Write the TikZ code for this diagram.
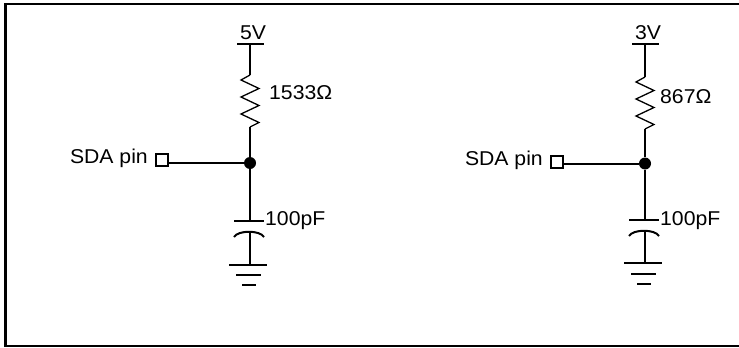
\documentclass[tikz,border=0pt]{standalone}
\usepackage{fontspec}
\setmainfont[FakeStretch=1.06]{Liberation Sans}
\begin{document}
\begin{tikzpicture}[x=1pt,y=-1pt,
  wire/.style={line width=2pt},
  zig/.style={line width=1.3pt},
  frame/.style={line width=2.2pt},
  lbl/.style={font=\fontsize{20}{22}\selectfont, inner sep=0pt},
  pinbox/.style={draw, line width=1.6pt, minimum size=12.5pt, inner sep=0pt},
  junc/.style={circle, fill, minimum size=12pt, inner sep=0pt}]
\useasboundingbox (0,0) rectangle (739,348);
% frame
\coordinate (fr1) at (739,4);
\coordinate (fr2) at (5.5,4);
\coordinate (fr3) at (5.5,346);
\coordinate (fr4) at (739,346);
\draw[frame] (fr1) -- (fr2) -- (fr3) -- (fr4);

% ---------- left circuit ----------
\node[lbl] (v1) at (253,32.5) {5V};
\coordinate (t1a) at (237,43.5);
\coordinate (t1b) at (264,43.5);
\coordinate (t1) at (250,43.5);
\draw[wire] (t1a) -- (t1b);
\coordinate (r1t) at (250,75);
\coordinate (r1b) at (250,127);
\draw[wire] (t1) -- (r1t);
\draw[zig] (r1t) -- ++(-9,5) -- ++(18,8.5) -- ++(-18,8.5) -- ++(18,8.5) -- ++(-18,8.5) -- ++(18,8.5) -- (r1b);
\node[lbl, anchor=west] (rl1) at (269,93) {1533Ω};
\node[junc] (j1) at (250,163) {};
\draw[wire] (r1b) -- (j1);
\node[pinbox] (p1) at (162,160) {};
\node[lbl, anchor=east] (s1) at (148,158) {SDA pin};
\draw[wire] (p1.east |- j1) -- (j1);
\coordinate (c1t) at (250,221);
\coordinate (c1a) at (234,221);
\coordinate (c1b) at (264,221);
\draw[wire] (j1) -- (c1t);
\draw[wire] (c1a) -- (c1b);
\coordinate (c2a) at (234,237);
\coordinate (c2m) at (250,231.5);
\coordinate (c2b) at (264,237);
\draw[wire] (c2a) .. controls (238,230) and (260,230) .. (c2b);
\node[lbl, anchor=west] (cl1) at (265,221) {100pF};
\coordinate (g1) at (250,264.5);
\coordinate (g1a) at (229,264.5);
\coordinate (g1b) at (267,264.5);
\coordinate (g2a) at (236,275);
\coordinate (g2b) at (261,275);
\coordinate (g3a) at (242,285);
\coordinate (g3b) at (256,285);
\draw[wire] (c2m) -- (g1);
\draw[wire] (g1a) -- (g1b);
\draw[wire] (g2a) -- (g2b);
\draw[wire] (g3a) -- (g3b);

% ---------- right circuit ----------
\node[lbl] (v2) at (648,32.5) {3V};
\coordinate (t2a) at (632,43.5);
\coordinate (t2b) at (659,43.5);
\coordinate (t2) at (645,43.5);
\draw[wire] (t2a) -- (t2b);
\coordinate (r2t) at (645,77);
\coordinate (r2b) at (645,129);
\draw[wire] (t2) -- (r2t);
\draw[zig] (r2t) -- ++(-9,5) -- ++(18,8.5) -- ++(-18,8.5) -- ++(18,8.5) -- ++(-18,8.5) -- ++(18,8.5) -- (r2b);
\node[lbl, anchor=west] (rl2) at (660,97) {867Ω};
\node[junc] (j2) at (645,163.5) {};
\draw[wire] (r2b) -- (j2);
\node[pinbox] (p2) at (557,162) {};
\node[lbl, anchor=east] (s2) at (543,160.5) {SDA pin};
\draw[wire] (p2.east |- j2) -- (j2);
\coordinate (d1t) at (645,220);
\coordinate (d1a) at (629,220);
\coordinate (d1b) at (659,220);
\draw[wire] (j2) -- (d1t);
\draw[wire] (d1a) -- (d1b);
\coordinate (d2a) at (629,236);
\coordinate (d2m) at (645,230.5);
\coordinate (d2b) at (659,236);
\draw[wire] (d2a) .. controls (633,229) and (655,229) .. (d2b);
\node[lbl, anchor=west] (cl2) at (660,220.5) {100pF};
\coordinate (h1) at (645,263);
\coordinate (h1a) at (624,263);
\coordinate (h1b) at (662,263);
\coordinate (h2a) at (631,273.5);
\coordinate (h2b) at (656,273.5);
\coordinate (h3a) at (637,283.5);
\coordinate (h3b) at (651,283.5);
\draw[wire] (d2m) -- (h1);
\draw[wire] (h1a) -- (h1b);
\draw[wire] (h2a) -- (h2b);
\draw[wire] (h3a) -- (h3b);
\end{tikzpicture}
\end{document}
